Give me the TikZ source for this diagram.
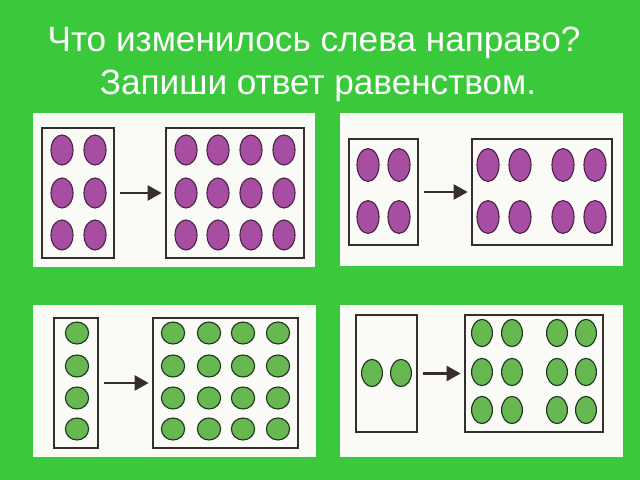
\documentclass[tikz,border=0pt]{standalone}
\usepackage{fontspec}
\setmainfont{Liberation Sans}
\usetikzlibrary{shapes.geometric,fit,arrows.meta}
\definecolor{bggreen}{RGB}{58,201,58}
\definecolor{sheet}{RGB}{250,250,247}
\definecolor{ink}{RGB}{55,45,45}
\definecolor{pfill}{RGB}{168,78,162}
\definecolor{pline}{RGB}{75,35,70}
\definecolor{gfill}{RGB}{104,184,82}
\definecolor{gline}{RGB}{30,55,35}

\begin{document}
\begin{tikzpicture}[
    x=0.025cm, y=-0.025cm,
    title/.style={text=white, font=\fontsize{25}{30}\selectfont,
                  anchor=base, inner sep=0pt},
    sheetbox/.style={fill=sheet, inner sep=0pt},
    box/.style={draw=ink, line width=1.1pt, inner sep=0pt},
    pdot/.style={ellipse, draw=pline, fill=pfill, line width=0.8pt,
                 inner sep=0pt, minimum width=0.55cm, minimum height=0.75cm},
    gdot/.style={ellipse, draw=gline, fill=gfill, line width=0.8pt,
                 inner sep=0pt, minimum width=0.58cm, minimum height=0.55cm},
    go/.style={draw=ink, line width=2.1pt,
               -{Triangle[length=10pt, width=10.5pt]},
               shorten <=3.5pt, shorten >=2.5pt}
  ]
    \fill[bggreen] (0,0) rectangle (640,480);
    \useasboundingbox (0,0) rectangle (640,480);

    %% --- Title ---
    \node[title] (t1) at (314,52) {Что изменилось слева направо?};
    \node[title] (t2) at (318,94) {Запиши ответ равенством.};

    %% --- Top left ---
    \node[sheetbox, fit={(33,113) (315,267)}] (w1) {};
    \node[box, fit={(42,128) (114,258)}] (a1) {};
    \node[box, fit={(166,128) (304,258)}] (b1) {};
    \foreach \x [count=\i] in {62,95}
      \foreach \y [count=\j] in {150,193,235}
        \node[pdot] (a1-\i-\j) at (\x,\y) {};
    \foreach \x [count=\i] in {186,218,251,284}
      \foreach \y [count=\j] in {150,193,235}
        \node[pdot] (b1-\i-\j) at (\x,\y) {};
    \draw[go] (a1.east) -- (b1.west);

    %% --- Top right ---
    \node[sheetbox, fit={(340,113) (623,266)}] (w2) {};
    \node[box, fit={(349,139) (418,245)}] (a2) {};
    \node[box, fit={(472,139) (612,245)}] (b2) {};
    \foreach \x [count=\i] in {368,399}
      \foreach \y [count=\j] in {165,217}
        \node[pdot, minimum height=0.82cm] (a2-\i-\j) at (\x,\y) {};
    \foreach \x [count=\i] in {488,520,563,595}
      \foreach \y [count=\j] in {165,217}
        \node[pdot, minimum height=0.82cm] (b2-\i-\j) at (\x,\y) {};
    \draw[go] (a2.east) -- (b2.west);

    %% --- Bottom left ---
    \node[sheetbox, fit={(33,305) (316,457)}] (w3) {};
    \node[box, fit={(54,318) (98,448)}] (a3) {};
    \node[box, fit={(153,318) (298,448)}] (b3) {};
    \foreach \y [count=\j] in {333,366,398,429}
      \node[gdot] (a3-\j) at (77,\y) {};
    \foreach \x [count=\i] in {173,209,243,278}
      \foreach \y [count=\j] in {333,366,398,429}
        \node[gdot] (b3-\i-\j) at (\x,\y) {};
    \draw[go] (a3.east) -- (b3.west);

    %% --- Bottom right ---
    \node[sheetbox, fit={(340,305) (623,457)}] (w4) {};
    \node[box, fit={(356,315) (417,432)}] (a4) {};
    \node[box, fit={(465,315) (603,432)}] (b4) {};
    \foreach \x [count=\i] in {372,401}
      \node[gdot, minimum width=0.52cm, minimum height=0.68cm] (a4-\i) at (\x,373) {};
    \foreach \x [count=\i] in {482,512,557,586}
      \foreach \y [count=\j] in {333,372,410}
        \node[gdot, minimum width=0.52cm, minimum height=0.68cm] (b4-\i-\j) at (\x,\y) {};
    \draw[go] (a4.east) -- (b4.west);
  \end{tikzpicture}
\end{document}
